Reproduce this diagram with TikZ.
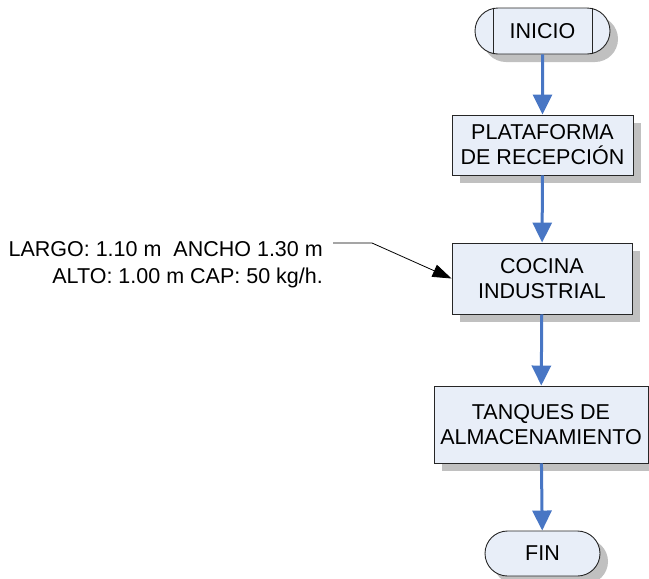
\documentclass[tikz,border=0pt]{standalone}
\usepackage{fontspec}
\setmainfont{Liberation Sans}
\usetikzlibrary{arrows.meta,shapes.misc,shadows,calc}
\definecolor{boxfill}{RGB}{232,238,248}
\definecolor{flowblue}{RGB}{72,118,196}
\definecolor{shadowgray}{RGB}{192,192,192}
\begin{document}
\begin{tikzpicture}[x=1pt,y=-1pt,
  every node/.style={font=\fontsize{21.5}{25}\selectfont, inner sep=0pt},
  shade8/.style={drop shadow={shadow xshift=8pt,shadow yshift=-8pt,fill=shadowgray,opacity=1}},
  procbox/.style={rectangle, draw=black!85, line width=0.9pt, fill=boxfill, align=center, shade8},
  termbox/.style={rounded rectangle, draw=black!85, line width=0.9pt, fill=boxfill, align=center, shade8},
  flow/.style={draw=flowblue, line width=3pt, -{Triangle[length=20pt,width=19pt]}},
  annot/.style={draw=black, line width=0.8pt, -{Triangle[length=19pt,width=13pt]}}
]
\useasboundingbox (0,0) rectangle (649,579);

% flowchart steps
\node[termbox, minimum width=135pt, minimum height=46pt] (ini) at (542.5,31) {INICIO};
\draw[black!85, line width=0.9pt] ($(ini.north)+(-49.5,0)$) -- ($(ini.south)+(-49.5,0)$)
  ($(ini.north)+(49.5,0)$) -- ($(ini.south)+(49.5,0)$);
\node[procbox, minimum width=181pt, minimum height=60pt] (pla) at (542.5,145) {PLATAFORMA\\DE RECEPCIÓN};
\node[procbox, minimum width=180pt, minimum height=71pt] (coc) at (542,278.5) {COCINA\\INDUSTRIAL};
\node[procbox, minimum width=214pt, minimum height=77pt] (tan) at (541,424.5) {TANQUES DE\\ALMACENAMIENTO};
\node[termbox, minimum width=115pt, minimum height=45pt] (fin) at (542.5,553.5) {FIN};

% flow connectors
\draw[flow] (ini) -- (pla);
\draw[flow] (pla) -- (coc);
\draw[flow] (coc) -- (tan);
\draw[flow] (tan) -- (fin);

% equipment specification callout
\node[anchor=north east, align=right, font=\fontsize{21.5}{27}\selectfont] (spec) at (323,241)
  {LARGO: 1.10 m\ \ ANCHO 1.30 m\\ALTO: 1.00 m CAP: 50 kg/h.};
\coordinate (bend) at (372,243);
\draw[annot] ($(spec.north east)+(10,2)$) -- (bend) -- (coc.west);
\end{tikzpicture}
\end{document}
